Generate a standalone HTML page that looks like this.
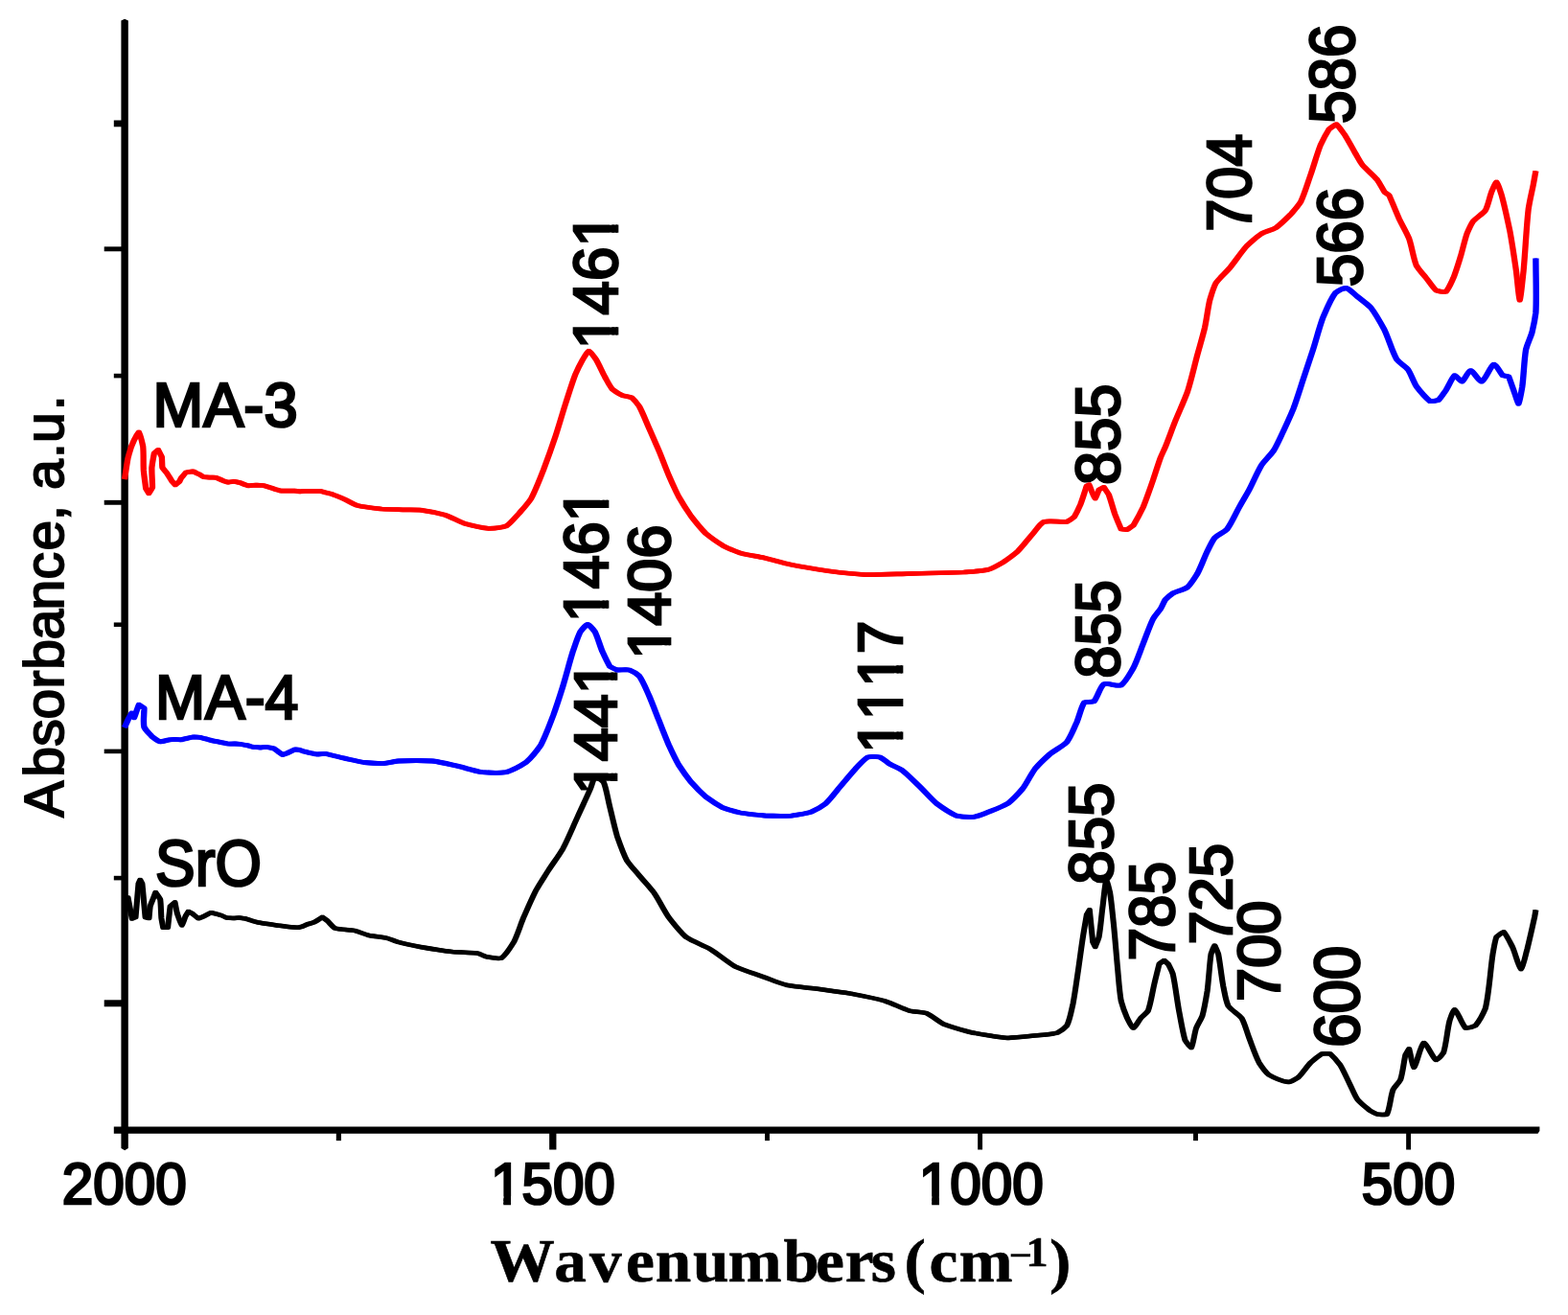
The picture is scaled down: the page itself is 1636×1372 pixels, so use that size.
<!DOCTYPE html>
<html><head><meta charset="utf-8"><title>FTIR spectra</title>
<style>
html,body{margin:0;padding:0;background:#fff;}
body{width:1636px;height:1372px;overflow:hidden;}
svg{display:block;}
text{font-kerning:none;font-variant-ligatures:none;}
.s{font-family:"Liberation Sans",sans-serif;fill:#000;stroke:#000;stroke-width:2.7px;stroke-linejoin:miter;}
.t{font-family:"Liberation Serif",serif;font-weight:bold;fill:#000;stroke:#000;stroke-width:0.6px;}
</style></head><body>
<svg width="1636" height="1372" viewBox="0 0 1636 1372">
<rect width="1636" height="1372" fill="#fff"/>

<defs><clipPath id="c1"><path clip-rule="evenodd" shape-rendering="crispEdges" d="M-50,-200H900V200H-50ZM0.77,-7.88H13.89V3.85H0.77ZM21.94,-7.88H34.59V3.85H21.94Z"/></clipPath><clipPath id="c2"><path clip-rule="evenodd" shape-rendering="crispEdges" d="M-50,-200H900V200H-50ZM0.77,-7.88H13.89V3.85H0.77ZM21.94,-7.88H34.59V3.85H21.94Z"/></clipPath><clipPath id="c3"><path clip-rule="evenodd" shape-rendering="crispEdges" d="M-50,-200H900V200H-50ZM1.10,-8.21H15.00V3.85H1.10ZM23.45,-8.21H36.84V3.85H23.45ZM109.60,-8.21H123.50V3.85H109.60ZM131.95,-8.21H145.34V3.85H131.95Z"/></clipPath><clipPath id="c4"><path clip-rule="evenodd" shape-rendering="crispEdges" d="M-50,-200H900V200H-50ZM1.05,-8.16H14.83V3.85H1.05ZM23.21,-8.16H36.48V3.85H23.21ZM108.37,-8.16H122.15V3.85H108.37ZM130.53,-8.16H143.81V3.85H130.53Z"/></clipPath><clipPath id="c5"><path clip-rule="evenodd" shape-rendering="crispEdges" d="M-50,-200H900V200H-50ZM0.97,-8.08H14.56V3.85H0.97ZM22.86,-8.08H35.96V3.85H22.86Z"/></clipPath><clipPath id="c6"><path clip-rule="evenodd" shape-rendering="crispEdges" d="M-50,-200H900V200H-50ZM0.97,-8.08H14.57V3.85H0.97ZM22.86,-8.08H35.96V3.85H22.86ZM106.58,-8.08H120.18V3.85H106.58ZM128.47,-8.08H141.57V3.85H128.47Z"/></clipPath><clipPath id="c7"><path clip-rule="evenodd" shape-rendering="crispEdges" d="M-50,-200H900V200H-50ZM1.13,-8.24H15.10V3.85H1.13ZM23.59,-8.24H37.04V3.85H23.59ZM37.52,-8.24H51.49V3.85H37.52ZM59.97,-8.24H73.43V3.85H59.97ZM73.91,-8.24H87.88V3.85H73.91ZM96.36,-8.24H109.82V3.85H96.36Z"/></clipPath></defs>
<g fill="#000">
<path d="M126.4,21.5 L130.1,19.8 L133.8,21.5 V1198 L130.1,1200.3 L126.4,1198 Z"/>
<path d="M118.8,1175.4 H1606.4 V1180 L1604.5,1182.8 H118.8 Z"/>
<rect x="118.8" y="125.50" width="11.2" height="6.8"/>
<rect x="108.7" y="257.35" width="21.3" height="4.9"/>
<rect x="118.8" y="389.80" width="11.2" height="4.6"/>
<rect x="108.7" y="521.85" width="21.3" height="4.9"/>
<rect x="118.8" y="649.45" width="11.2" height="4.5"/>
<rect x="108.7" y="781.60" width="21.3" height="4.6"/>
<rect x="118.8" y="913.80" width="11.2" height="4.6"/>
<rect x="108.7" y="1043.30" width="21.3" height="7"/>
<rect x="350.80" y="1179" width="5.2" height="11.10"/>
<rect x="573.15" y="1179" width="7.3" height="20.50"/>
<rect x="798.05" y="1179" width="4.9" height="11.10"/>
<rect x="1020.15" y="1179" width="4.9" height="20.50"/>
<rect x="1245.05" y="1179" width="4.9" height="11.10"/>
<rect x="1467.15" y="1179" width="4.9" height="20.50"/>
</g>
<text class="s" transform="translate(64.80,1256.00) scale(0.9642,1)" font-size="60.60">2000</text>
<text class="s" transform="translate(511.90,1256.00) scale(0.9642,1)" font-size="60.60" clip-path="url(#c1)">1500</text>
<text class="s" transform="translate(958.80,1256.00) scale(0.9642,1)" font-size="60.60" clip-path="url(#c2)">1000</text>
<text class="s" transform="translate(1420.80,1256.00) scale(0.9642,1)" font-size="60.60">500</text>
<text class="s" transform="translate(159.53,445.40) scale(0.9813,1)" font-size="64.43">MA-3</text>
<text class="s" transform="translate(161.90,749.83) scale(0.9526,1)" font-size="65.67">MA-4</text>
<text class="s" transform="translate(162.07,923.93) scale(0.9137,1)" font-size="68.23">SrO</text>
<text class="t" transform="translate(0,1337.4) scale(1.06,1)" font-size="63.5" x="482.45 545.47 580.19 615.94 645.09 681.98 716.42 771.32 802.83 831.79 857.36 877.36 890.19 914.72 943.77" y="0">Wavenumbers (cm<tspan font-size="36.3" x="995.57" y="-19.8">–</tspan><tspan font-size="43.4" x="1009.91" y="-16.8">1</tspan><tspan x="1033.11" y="0">)</tspan></text>
<text class="s" style="stroke-width:1.9px" transform="translate(66.0,853.0) rotate(-90)" font-size="57.0" x="0.3 42.2 74.2 102.6 134.6 154.3 185.5 216.4 248.5 278.5 310.1 326.0 341.9 375.0 391.1 424.7">Absorbance, a.u.</text>
<text class="s" transform="translate(644.33,364.23) rotate(-90) scale(0.9840,1)" font-size="65.03" clip-path="url(#c3)">1461</text>
<text class="s" transform="translate(634.37,649.20) rotate(-90) scale(0.9766,1)" font-size="64.32" clip-path="url(#c4)">1461</text>
<text class="s" transform="translate(698.87,687.67) rotate(-90) scale(0.9950,1)" font-size="63.29" clip-path="url(#c5)">1406</text>
<text class="s" transform="translate(642.73,829.37) rotate(-90) scale(0.9944,1)" font-size="63.30" clip-path="url(#c6)">1441</text>
<text class="s" transform="translate(941.33,785.77) rotate(-90) scale(0.9487,1)" font-size="65.43" clip-path="url(#c7)">1117</text>
<text class="s" transform="translate(1167.87,505.93) rotate(-90) scale(0.9873,1)" font-size="64.00">855</text>
<text class="s" transform="translate(1168.33,707.73) rotate(-90) scale(0.9358,1)" font-size="65.74">855</text>
<text class="s" transform="translate(1160.77,922.67) rotate(-90) scale(0.9669,1)" font-size="65.74">855</text>
<text class="s" transform="translate(1225.10,1002.60) rotate(-90) scale(0.9236,1)" font-size="67.19">785</text>
<text class="s" transform="translate(1285.27,985.60) rotate(-90) scale(1.0000,1)" font-size="63.29">725</text>
<text class="s" transform="translate(1335.40,1044.97) rotate(-90) scale(0.9993,1)" font-size="63.29">700</text>
<text class="s" transform="translate(1417.53,1092.83) rotate(-90) scale(0.9519,1)" font-size="66.77">600</text>
<text class="s" transform="translate(1305.40,241.57) rotate(-90) scale(0.9417,1)" font-size="64.70">704</text>
<text class="s" transform="translate(1412.53,129.10) rotate(-90) scale(0.9240,1)" font-size="67.15">586</text>
<text class="s" transform="translate(1420.53,299.17) rotate(-90) scale(0.9295,1)" font-size="66.77">566</text>
<g fill="none" stroke="#000000" stroke-width="4.5" stroke-linejoin="round" stroke-linecap="butt"><path transform="translate(-0.8,0)" d="M130.0,938.0L133.5,936.5L137.8,958.5L141.5,957.0L144.5,922.0L146.3,918.0L148.4,922.0L151.6,957.0L155.5,958.0C155.9,953.9 156.1,949.7 156.7,945.7C157.7,942.3 159.2,939.2 160.4,935.9L162.3,931.0C163.9,933.5 165.7,935.7 167.2,938.4C168.0,944.4 167.9,952.0 168.4,958.0C168.9,961.5 169.6,964.5 170.2,967.8L175.1,967.8C175.9,960.4 176.7,952.9 177.6,945.7C179.2,944.2 180.9,942.7 182.5,941.4C183.3,945.1 183.9,949.2 184.9,953.1C186.3,957.2 188.2,963.0 189.8,965.3C191.1,963.5 192.3,959.1 193.5,956.0L196.5,951.1L200.8,953.3C202.9,955.0 204.9,956.7 207.0,958.3C209.0,957.6 211.1,956.7 213.1,955.9C215.5,954.7 217.9,953.2 220.4,952.2C223.6,952.8 227.0,953.9 230.2,954.8C232.3,955.7 234.3,956.6 236.3,957.5C238.8,957.7 241.2,957.8 243.7,957.9C245.7,957.8 247.8,957.6 249.8,957.5C251.8,957.8 253.9,958.0 255.9,958.3C258.0,959.0 260.0,959.7 262.1,960.4C264.1,961.0 266.2,961.6 268.2,962.2C270.6,962.6 273.0,963.1 275.5,963.5C279.9,964.1 284.7,964.8 289.0,965.4C292.4,965.9 295.5,966.4 298.8,966.8C302.8,967.2 307.0,967.5 311.1,967.8L316.0,966.5L320.0,964.6C322.9,963.7 325.8,962.9 328.6,961.8C331.2,960.3 333.7,958.4 336.3,956.8C338.0,958.0 339.8,959.3 341.5,960.6C344.1,963.1 346.1,966.2 349.2,968.3C355.0,970.0 363.2,969.7 369.7,970.9C375.1,972.3 379.8,974.6 385.1,976.0C390.9,977.2 397.5,977.4 403.1,978.6C407.5,979.8 410.9,981.5 415.4,982.9C422.3,984.7 430.3,986.4 438.5,988.0C448.9,989.8 461.2,991.8 471.9,993.1C480.8,993.9 490.1,993.5 497.6,994.4C501.5,995.5 504.2,997.2 507.8,998.3C512.6,999.1 518.5,1000.7 523.2,999.6C528.1,996.2 532.2,989.0 536.1,982.9C540.0,975.1 542.7,965.9 546.3,957.2C550.4,947.9 554.7,937.8 559.2,929.0C563.3,921.7 567.6,915.4 572.0,908.4C576.9,900.8 582.5,893.6 587.4,885.3C592.8,875.0 597.8,862.7 602.8,851.9C607.2,842.2 612.1,831.9 615.7,823.7C617.7,818.9 618.6,813.5 620.8,810.8C623.5,811.3 627.1,813.6 629.8,816.0C632.7,822.8 634.0,832.8 636.2,841.6C638.7,851.6 641.0,862.5 643.9,872.4C647.0,881.3 650.2,890.4 654.2,898.1C658.1,903.9 662.6,908.2 667.0,913.5C672.0,919.4 677.4,925.0 682.4,931.5C687.8,939.4 692.3,949.1 697.8,957.2C703.5,964.5 709.0,971.7 715.8,977.7C723.6,982.9 733.1,985.8 741.5,990.6C750.2,996.1 758.2,1003.3 767.1,1008.5C776.2,1012.7 786.1,1015.5 795.4,1018.8C803.9,1021.8 811.8,1025.3 820.5,1027.7C830.3,1029.6 840.8,1030.1 851.3,1031.5C863.0,1033.1 875.3,1034.6 887.3,1036.6C899.3,1038.9 912.0,1041.3 923.2,1044.3C932.3,1047.4 940.8,1052.0 948.9,1054.6C955.2,1056.0 961.0,1055.5 966.9,1057.2C973.1,1060.1 978.4,1065.3 984.9,1068.7C992.8,1071.9 1002.2,1074.3 1010.5,1076.5C1017.6,1078.1 1024.2,1079.2 1031.1,1080.3C1037.9,1081.3 1044.3,1082.5 1051.6,1082.9C1061.2,1082.7 1072.8,1081.2 1082.4,1080.3C1089.7,1079.5 1097.1,1079.4 1103.0,1077.7C1107.0,1075.7 1110.3,1073.4 1113.2,1070.0C1116.3,1063.9 1117.7,1055.1 1119.6,1046.9C1121.6,1036.5 1123.1,1024.8 1124.8,1013.5C1126.5,1001.7 1128.2,988.7 1129.9,977.6C1131.2,969.3 1132.5,962.2 1133.8,954.5C1134.8,952.8 1135.8,951.0 1136.8,949.3C1137.9,960.4 1139.1,971.6 1140.2,982.7L1142.7,987.9C1144.0,984.5 1145.4,981.6 1146.6,977.6C1148.2,968.9 1149.1,956.9 1150.4,946.8C1151.7,937.2 1152.8,921.9 1154.3,918.5C1155.5,920.0 1156.9,926.4 1158.1,931.4C1159.7,940.8 1160.7,953.1 1162.0,964.7C1163.4,978.6 1164.6,994.3 1165.9,1008.4C1167.1,1020.8 1167.8,1033.7 1169.7,1044.3C1171.5,1051.0 1173.8,1056.9 1176.1,1062.3C1178.1,1066.1 1180.3,1071.3 1182.5,1072.6C1184.9,1071.5 1187.6,1065.6 1190.2,1062.3C1192.7,1059.6 1195.6,1057.8 1197.9,1054.6C1200.7,1046.9 1202.3,1035.3 1204.4,1026.4C1206.1,1019.2 1207.8,1012.6 1209.5,1005.8C1211.2,1004.5 1212.9,1003.3 1214.6,1002.0L1219.0,1006.0C1220.6,1009.4 1222.2,1012.1 1223.7,1016.1C1226.1,1026.6 1227.9,1042.2 1230.1,1054.6C1232.2,1065.3 1233.9,1076.7 1236.5,1085.4C1238.5,1088.5 1241.0,1091.8 1243.0,1093.1C1245.1,1089.0 1246.1,1078.8 1248.1,1072.6C1250.0,1067.9 1252.6,1064.6 1254.5,1059.8C1256.6,1052.3 1258.1,1043.3 1259.6,1034.1C1261.2,1022.1 1261.9,1006.6 1263.5,995.6C1264.7,992.1 1266.0,988.4 1267.3,986.6C1268.6,988.4 1270.0,992.2 1271.2,995.6C1273.1,1005.2 1274.4,1018.8 1276.3,1029.0C1277.9,1036.4 1278.7,1043.4 1281.5,1049.5C1285.2,1054.5 1291.6,1057.4 1295.6,1062.3C1299.0,1068.4 1300.6,1075.8 1303.3,1082.9C1306.5,1091.2 1309.8,1101.1 1313.6,1108.6C1316.8,1113.5 1319.6,1117.8 1323.8,1121.4C1329.6,1124.8 1338.3,1128.2 1344.4,1129.1C1348.2,1128.3 1351.2,1126.2 1354.6,1124.0C1359.0,1119.8 1363.1,1113.2 1367.5,1108.6C1371.3,1105.2 1375.2,1102.1 1379.0,1099.6C1382.0,1099.3 1385.1,1099.2 1388.0,1099.6C1391.5,1102.7 1395.0,1106.7 1398.3,1111.1C1402.0,1117.2 1405.3,1125.2 1408.6,1131.7C1411.3,1137.1 1413.2,1142.4 1416.3,1147.1C1420.0,1151.4 1424.9,1155.1 1429.1,1158.6C1431.7,1160.1 1434.2,1161.4 1436.8,1162.5C1440.1,1162.7 1444.0,1163.5 1447.1,1162.5C1450.2,1156.4 1450.8,1144.0 1453.5,1136.8C1455.8,1132.7 1459.0,1130.6 1461.2,1126.5C1463.6,1119.4 1464.5,1108.9 1466.3,1100.9C1467.6,1098.6 1468.9,1096.2 1470.2,1094.4C1471.9,1099.8 1473.2,1111.4 1475.3,1113.7C1478.2,1110.8 1481.7,1091.3 1485.6,1088.0C1489.5,1089.8 1494.3,1103.0 1498.4,1106.0C1501.1,1104.9 1503.8,1101.6 1506.1,1098.3C1509.0,1089.4 1510.1,1074.1 1512.5,1064.9C1514.1,1060.3 1515.6,1054.7 1517.7,1053.3C1521.0,1055.4 1525.0,1068.4 1529.2,1072.6C1532.5,1072.8 1536.3,1071.6 1539.5,1070.0C1543.3,1065.4 1546.8,1059.4 1549.8,1052.1C1553.6,1036.9 1555.1,1011.0 1557.5,995.6C1558.8,988.5 1559.5,982.9 1561.3,977.6C1563.6,975.5 1566.5,973.3 1569.0,972.4C1572.1,976.0 1575.1,982.3 1578.0,987.9C1581.2,995.0 1584.2,1008.4 1587.0,1011.0C1589.3,1008.5 1591.3,997.8 1593.4,990.4C1596.0,980.2 1598.8,967.4 1601.1,957.0C1601.6,954.3 1602.0,951.9 1602.4,949.3"/><path transform="translate(0.8,0)" d="M130.0,938.0L133.5,936.5L137.8,958.5L141.5,957.0L144.5,922.0L146.3,918.0L148.4,922.0L151.6,957.0L155.5,958.0C155.9,953.9 156.1,949.7 156.7,945.7C157.7,942.3 159.2,939.2 160.4,935.9L162.3,931.0C163.9,933.5 165.7,935.7 167.2,938.4C168.0,944.4 167.9,952.0 168.4,958.0C168.9,961.5 169.6,964.5 170.2,967.8L175.1,967.8C175.9,960.4 176.7,952.9 177.6,945.7C179.2,944.2 180.9,942.7 182.5,941.4C183.3,945.1 183.9,949.2 184.9,953.1C186.3,957.2 188.2,963.0 189.8,965.3C191.1,963.5 192.3,959.1 193.5,956.0L196.5,951.1L200.8,953.3C202.9,955.0 204.9,956.7 207.0,958.3C209.0,957.6 211.1,956.7 213.1,955.9C215.5,954.7 217.9,953.2 220.4,952.2C223.6,952.8 227.0,953.9 230.2,954.8C232.3,955.7 234.3,956.6 236.3,957.5C238.8,957.7 241.2,957.8 243.7,957.9C245.7,957.8 247.8,957.6 249.8,957.5C251.8,957.8 253.9,958.0 255.9,958.3C258.0,959.0 260.0,959.7 262.1,960.4C264.1,961.0 266.2,961.6 268.2,962.2C270.6,962.6 273.0,963.1 275.5,963.5C279.9,964.1 284.7,964.8 289.0,965.4C292.4,965.9 295.5,966.4 298.8,966.8C302.8,967.2 307.0,967.5 311.1,967.8L316.0,966.5L320.0,964.6C322.9,963.7 325.8,962.9 328.6,961.8C331.2,960.3 333.7,958.4 336.3,956.8C338.0,958.0 339.8,959.3 341.5,960.6C344.1,963.1 346.1,966.2 349.2,968.3C355.0,970.0 363.2,969.7 369.7,970.9C375.1,972.3 379.8,974.6 385.1,976.0C390.9,977.2 397.5,977.4 403.1,978.6C407.5,979.8 410.9,981.5 415.4,982.9C422.3,984.7 430.3,986.4 438.5,988.0C448.9,989.8 461.2,991.8 471.9,993.1C480.8,993.9 490.1,993.5 497.6,994.4C501.5,995.5 504.2,997.2 507.8,998.3C512.6,999.1 518.5,1000.7 523.2,999.6C528.1,996.2 532.2,989.0 536.1,982.9C540.0,975.1 542.7,965.9 546.3,957.2C550.4,947.9 554.7,937.8 559.2,929.0C563.3,921.7 567.6,915.4 572.0,908.4C576.9,900.8 582.5,893.6 587.4,885.3C592.8,875.0 597.8,862.7 602.8,851.9C607.2,842.2 612.1,831.9 615.7,823.7C617.7,818.9 618.6,813.5 620.8,810.8C623.5,811.3 627.1,813.6 629.8,816.0C632.7,822.8 634.0,832.8 636.2,841.6C638.7,851.6 641.0,862.5 643.9,872.4C647.0,881.3 650.2,890.4 654.2,898.1C658.1,903.9 662.6,908.2 667.0,913.5C672.0,919.4 677.4,925.0 682.4,931.5C687.8,939.4 692.3,949.1 697.8,957.2C703.5,964.5 709.0,971.7 715.8,977.7C723.6,982.9 733.1,985.8 741.5,990.6C750.2,996.1 758.2,1003.3 767.1,1008.5C776.2,1012.7 786.1,1015.5 795.4,1018.8C803.9,1021.8 811.8,1025.3 820.5,1027.7C830.3,1029.6 840.8,1030.1 851.3,1031.5C863.0,1033.1 875.3,1034.6 887.3,1036.6C899.3,1038.9 912.0,1041.3 923.2,1044.3C932.3,1047.4 940.8,1052.0 948.9,1054.6C955.2,1056.0 961.0,1055.5 966.9,1057.2C973.1,1060.1 978.4,1065.3 984.9,1068.7C992.8,1071.9 1002.2,1074.3 1010.5,1076.5C1017.6,1078.1 1024.2,1079.2 1031.1,1080.3C1037.9,1081.3 1044.3,1082.5 1051.6,1082.9C1061.2,1082.7 1072.8,1081.2 1082.4,1080.3C1089.7,1079.5 1097.1,1079.4 1103.0,1077.7C1107.0,1075.7 1110.3,1073.4 1113.2,1070.0C1116.3,1063.9 1117.7,1055.1 1119.6,1046.9C1121.6,1036.5 1123.1,1024.8 1124.8,1013.5C1126.5,1001.7 1128.2,988.7 1129.9,977.6C1131.2,969.3 1132.5,962.2 1133.8,954.5C1134.8,952.8 1135.8,951.0 1136.8,949.3C1137.9,960.4 1139.1,971.6 1140.2,982.7L1142.7,987.9C1144.0,984.5 1145.4,981.6 1146.6,977.6C1148.2,968.9 1149.1,956.9 1150.4,946.8C1151.7,937.2 1152.8,921.9 1154.3,918.5C1155.5,920.0 1156.9,926.4 1158.1,931.4C1159.7,940.8 1160.7,953.1 1162.0,964.7C1163.4,978.6 1164.6,994.3 1165.9,1008.4C1167.1,1020.8 1167.8,1033.7 1169.7,1044.3C1171.5,1051.0 1173.8,1056.9 1176.1,1062.3C1178.1,1066.1 1180.3,1071.3 1182.5,1072.6C1184.9,1071.5 1187.6,1065.6 1190.2,1062.3C1192.7,1059.6 1195.6,1057.8 1197.9,1054.6C1200.7,1046.9 1202.3,1035.3 1204.4,1026.4C1206.1,1019.2 1207.8,1012.6 1209.5,1005.8C1211.2,1004.5 1212.9,1003.3 1214.6,1002.0L1219.0,1006.0C1220.6,1009.4 1222.2,1012.1 1223.7,1016.1C1226.1,1026.6 1227.9,1042.2 1230.1,1054.6C1232.2,1065.3 1233.9,1076.7 1236.5,1085.4C1238.5,1088.5 1241.0,1091.8 1243.0,1093.1C1245.1,1089.0 1246.1,1078.8 1248.1,1072.6C1250.0,1067.9 1252.6,1064.6 1254.5,1059.8C1256.6,1052.3 1258.1,1043.3 1259.6,1034.1C1261.2,1022.1 1261.9,1006.6 1263.5,995.6C1264.7,992.1 1266.0,988.4 1267.3,986.6C1268.6,988.4 1270.0,992.2 1271.2,995.6C1273.1,1005.2 1274.4,1018.8 1276.3,1029.0C1277.9,1036.4 1278.7,1043.4 1281.5,1049.5C1285.2,1054.5 1291.6,1057.4 1295.6,1062.3C1299.0,1068.4 1300.6,1075.8 1303.3,1082.9C1306.5,1091.2 1309.8,1101.1 1313.6,1108.6C1316.8,1113.5 1319.6,1117.8 1323.8,1121.4C1329.6,1124.8 1338.3,1128.2 1344.4,1129.1C1348.2,1128.3 1351.2,1126.2 1354.6,1124.0C1359.0,1119.8 1363.1,1113.2 1367.5,1108.6C1371.3,1105.2 1375.2,1102.1 1379.0,1099.6C1382.0,1099.3 1385.1,1099.2 1388.0,1099.6C1391.5,1102.7 1395.0,1106.7 1398.3,1111.1C1402.0,1117.2 1405.3,1125.2 1408.6,1131.7C1411.3,1137.1 1413.2,1142.4 1416.3,1147.1C1420.0,1151.4 1424.9,1155.1 1429.1,1158.6C1431.7,1160.1 1434.2,1161.4 1436.8,1162.5C1440.1,1162.7 1444.0,1163.5 1447.1,1162.5C1450.2,1156.4 1450.8,1144.0 1453.5,1136.8C1455.8,1132.7 1459.0,1130.6 1461.2,1126.5C1463.6,1119.4 1464.5,1108.9 1466.3,1100.9C1467.6,1098.6 1468.9,1096.2 1470.2,1094.4C1471.9,1099.8 1473.2,1111.4 1475.3,1113.7C1478.2,1110.8 1481.7,1091.3 1485.6,1088.0C1489.5,1089.8 1494.3,1103.0 1498.4,1106.0C1501.1,1104.9 1503.8,1101.6 1506.1,1098.3C1509.0,1089.4 1510.1,1074.1 1512.5,1064.9C1514.1,1060.3 1515.6,1054.7 1517.7,1053.3C1521.0,1055.4 1525.0,1068.4 1529.2,1072.6C1532.5,1072.8 1536.3,1071.6 1539.5,1070.0C1543.3,1065.4 1546.8,1059.4 1549.8,1052.1C1553.6,1036.9 1555.1,1011.0 1557.5,995.6C1558.8,988.5 1559.5,982.9 1561.3,977.6C1563.6,975.5 1566.5,973.3 1569.0,972.4C1572.1,976.0 1575.1,982.3 1578.0,987.9C1581.2,995.0 1584.2,1008.4 1587.0,1011.0C1589.3,1008.5 1591.3,997.8 1593.4,990.4C1596.0,980.2 1598.8,967.4 1601.1,957.0C1601.6,954.3 1602.0,951.9 1602.4,949.3"/></g>
<g fill="none" stroke="#0000ff" stroke-width="4.8" stroke-linejoin="round" stroke-linecap="butt"><path transform="translate(-0.8,0)" d="M130.0,759.0C131.3,756.0 132.7,753.0 134.0,750.0C135.2,748.0 136.3,746.0 137.5,744.0L140.0,748.8C141.6,744.3 143.2,739.5 144.9,735.3C146.7,736.4 148.6,737.7 150.4,739.0C150.5,745.3 149.2,753.0 150.4,758.6C152.3,762.4 155.6,765.3 158.4,768.3C161.1,770.4 164.0,772.6 166.9,773.9C170.1,773.8 173.4,772.5 176.7,771.8L182.3,771.3C184.5,771.5 186.7,771.7 189.0,771.9C193.0,771.0 197.2,769.9 201.2,769.0C203.7,769.0 206.1,769.2 208.6,769.3L213.5,770.7C215.9,771.3 218.3,772.0 220.8,772.6C224.0,773.3 227.3,773.9 230.6,774.6C232.7,775.0 234.7,775.4 236.8,775.8L240.4,776.2L245.3,776.0L250.2,776.4C252.7,776.8 255.1,777.2 257.6,777.6C259.6,778.2 261.7,778.7 263.7,779.3C266.6,779.5 269.4,779.8 272.3,780.0L274.7,779.6L278.4,779.5C280.8,779.9 283.3,780.4 285.7,780.8C287.3,782.1 289.0,783.3 290.6,784.6L294.9,787.5L299.2,786.0L307.8,781.8L312.7,782.5L317.6,784.2C319.6,784.7 321.7,785.1 323.7,785.6C326.2,786.1 328.6,786.5 331.1,787.0L336.0,786.7L340.0,786.5C346.5,788.1 352.9,789.7 359.4,791.2C366.2,792.7 373.1,794.4 380.0,795.5C386.7,796.2 393.6,796.7 400.0,796.6C405.4,796.1 409.6,794.6 415.4,794.0C425.7,793.5 440.0,793.3 451.3,794.0C460.4,795.2 468.4,797.3 477.0,799.2C485.6,801.2 494.1,804.2 502.7,805.6C511.2,806.3 520.3,806.8 528.4,805.6C535.7,803.3 542.7,799.5 549.0,795.3C554.7,790.1 559.6,784.1 564.3,777.3C569.2,768.1 573.2,756.8 577.2,746.5C580.9,736.3 584.1,726.2 587.4,715.7C590.9,704.1 594.3,690.7 597.7,679.8C600.3,672.3 602.5,665.1 605.4,659.2C607.8,656.1 610.5,652.7 613.1,651.5C615.7,652.7 618.4,656.1 620.8,659.2C623.7,665.1 625.8,673.3 628.5,679.8C631.0,685.2 633.5,690.6 636.2,695.2C638.7,696.7 641.2,697.9 643.9,699.0C648.0,699.2 652.7,698.3 656.7,699.0C660.4,700.4 663.8,702.5 667.0,705.4C670.9,710.8 674.0,718.8 677.3,726.0C680.8,734.2 684.1,743.1 687.5,751.7C690.9,760.2 694.3,769.1 697.8,777.3C701.1,784.5 704.3,791.3 708.0,797.9C712.0,804.1 716.4,810.2 721.0,815.9C725.8,821.3 730.9,826.6 736.3,831.3C742.0,835.5 748.2,839.6 754.3,842.8C760.2,845.1 765.9,846.5 772.3,848.0C780.3,849.4 789.3,850.3 798.0,851.0C807.1,851.4 816.9,851.6 825.7,851.1C832.9,850.2 839.8,849.2 846.2,847.3C851.7,844.9 856.7,842.0 861.6,838.3C867.0,833.2 871.9,826.3 877.0,820.3C882.1,814.3 887.3,807.9 892.4,802.3C896.7,797.9 900.7,792.7 905.3,790.0C909.4,789.0 914.1,789.2 918.1,790.0C921.8,791.6 924.8,794.9 928.4,797.2C932.5,799.5 936.8,800.9 941.2,803.6C947.0,808.1 953.2,814.6 959.2,820.3C965.2,826.2 970.8,832.8 977.1,838.3C983.6,843.1 990.8,848.1 997.7,851.1C1003.7,852.5 1009.9,852.7 1015.7,852.4C1021.0,851.4 1025.8,849.3 1031.1,847.3C1037.7,844.7 1045.3,842.0 1051.6,838.3C1057.3,833.9 1062.2,828.5 1067.0,822.9C1071.7,816.5 1075.1,808.7 1079.8,802.3C1084.6,796.7 1089.9,791.7 1095.3,786.9C1101.0,782.3 1108.1,779.2 1113.2,774.1C1117.5,768.1 1120.3,760.4 1123.5,753.5C1126.3,746.7 1128.0,738.1 1131.2,733.0C1134.3,731.7 1138.3,732.9 1141.5,731.7C1145.3,727.2 1147.3,717.5 1151.7,713.7C1156.8,712.2 1164.4,716.4 1169.7,715.0C1174.8,711.2 1178.6,703.5 1182.5,697.0C1186.4,689.1 1189.4,679.9 1192.8,671.4C1196.2,662.8 1199.5,652.9 1203.1,645.7C1205.6,641.6 1208.4,638.9 1210.8,635.4C1212.7,632.1 1214.0,628.5 1216.0,625.4C1218.4,623.1 1220.9,621.0 1223.7,619.0C1228.4,616.7 1234.5,615.5 1239.1,612.6C1243.1,608.7 1246.1,603.6 1249.4,598.4C1253.1,591.4 1256.3,582.3 1259.6,575.3C1262.2,570.2 1264.2,565.4 1267.3,561.2C1271.0,557.7 1276.2,556.0 1280.2,552.2C1284.9,545.9 1288.9,536.5 1293.0,529.1C1296.5,522.8 1299.8,517.5 1303.3,511.1C1307.5,503.1 1311.5,493.1 1316.1,485.4C1320.2,479.7 1325.1,475.5 1329.0,470.0C1332.8,463.6 1335.8,456.5 1339.2,449.5C1342.7,442.0 1346.2,434.5 1349.5,426.4C1353.1,416.7 1356.4,405.9 1359.8,395.6C1363.2,385.3 1366.6,375.1 1370.0,364.7C1373.5,353.7 1376.4,341.9 1380.3,331.4C1384.2,322.4 1388.3,311.9 1393.2,305.7C1396.8,302.9 1400.9,300.8 1404.7,300.5C1408.7,301.9 1412.3,306.4 1416.3,309.5C1420.9,313.2 1425.9,316.5 1430.4,321.1C1435.5,327.7 1440.1,336.0 1444.5,344.2C1449.1,353.9 1452.5,366.8 1457.3,375.0C1460.9,379.4 1465.4,381.3 1468.9,385.3C1472.4,390.6 1474.4,397.6 1477.9,403.3C1482.1,408.8 1487.3,414.7 1492.0,418.7C1495.0,418.8 1498.1,418.2 1501.0,417.4C1503.7,414.5 1506.1,410.8 1508.7,407.1C1511.7,402.3 1514.6,394.9 1517.7,391.7C1520.2,392.7 1522.8,397.0 1525.4,398.1C1528.4,395.8 1531.2,388.1 1534.4,386.6C1538.0,387.8 1542.1,397.0 1545.9,398.1C1550.3,395.8 1554.7,382.2 1558.8,380.1C1561.9,381.4 1564.8,387.9 1567.8,391.7C1569.9,392.2 1572.1,392.5 1574.2,393.0C1576.4,398.8 1578.6,405.5 1580.6,411.0C1581.9,414.7 1583.2,419.6 1584.4,421.2C1585.8,418.3 1587.1,410.0 1588.3,403.3C1589.8,392.0 1590.2,375.9 1592.1,364.7C1593.9,357.9 1596.7,352.9 1598.5,346.8C1600.1,340.1 1601.4,334.2 1602.4,326.2C1603.3,310.4 1602.4,288.5 1602.4,269.6"/><path transform="translate(0.8,0)" d="M130.0,759.0C131.3,756.0 132.7,753.0 134.0,750.0C135.2,748.0 136.3,746.0 137.5,744.0L140.0,748.8C141.6,744.3 143.2,739.5 144.9,735.3C146.7,736.4 148.6,737.7 150.4,739.0C150.5,745.3 149.2,753.0 150.4,758.6C152.3,762.4 155.6,765.3 158.4,768.3C161.1,770.4 164.0,772.6 166.9,773.9C170.1,773.8 173.4,772.5 176.7,771.8L182.3,771.3C184.5,771.5 186.7,771.7 189.0,771.9C193.0,771.0 197.2,769.9 201.2,769.0C203.7,769.0 206.1,769.2 208.6,769.3L213.5,770.7C215.9,771.3 218.3,772.0 220.8,772.6C224.0,773.3 227.3,773.9 230.6,774.6C232.7,775.0 234.7,775.4 236.8,775.8L240.4,776.2L245.3,776.0L250.2,776.4C252.7,776.8 255.1,777.2 257.6,777.6C259.6,778.2 261.7,778.7 263.7,779.3C266.6,779.5 269.4,779.8 272.3,780.0L274.7,779.6L278.4,779.5C280.8,779.9 283.3,780.4 285.7,780.8C287.3,782.1 289.0,783.3 290.6,784.6L294.9,787.5L299.2,786.0L307.8,781.8L312.7,782.5L317.6,784.2C319.6,784.7 321.7,785.1 323.7,785.6C326.2,786.1 328.6,786.5 331.1,787.0L336.0,786.7L340.0,786.5C346.5,788.1 352.9,789.7 359.4,791.2C366.2,792.7 373.1,794.4 380.0,795.5C386.7,796.2 393.6,796.7 400.0,796.6C405.4,796.1 409.6,794.6 415.4,794.0C425.7,793.5 440.0,793.3 451.3,794.0C460.4,795.2 468.4,797.3 477.0,799.2C485.6,801.2 494.1,804.2 502.7,805.6C511.2,806.3 520.3,806.8 528.4,805.6C535.7,803.3 542.7,799.5 549.0,795.3C554.7,790.1 559.6,784.1 564.3,777.3C569.2,768.1 573.2,756.8 577.2,746.5C580.9,736.3 584.1,726.2 587.4,715.7C590.9,704.1 594.3,690.7 597.7,679.8C600.3,672.3 602.5,665.1 605.4,659.2C607.8,656.1 610.5,652.7 613.1,651.5C615.7,652.7 618.4,656.1 620.8,659.2C623.7,665.1 625.8,673.3 628.5,679.8C631.0,685.2 633.5,690.6 636.2,695.2C638.7,696.7 641.2,697.9 643.9,699.0C648.0,699.2 652.7,698.3 656.7,699.0C660.4,700.4 663.8,702.5 667.0,705.4C670.9,710.8 674.0,718.8 677.3,726.0C680.8,734.2 684.1,743.1 687.5,751.7C690.9,760.2 694.3,769.1 697.8,777.3C701.1,784.5 704.3,791.3 708.0,797.9C712.0,804.1 716.4,810.2 721.0,815.9C725.8,821.3 730.9,826.6 736.3,831.3C742.0,835.5 748.2,839.6 754.3,842.8C760.2,845.1 765.9,846.5 772.3,848.0C780.3,849.4 789.3,850.3 798.0,851.0C807.1,851.4 816.9,851.6 825.7,851.1C832.9,850.2 839.8,849.2 846.2,847.3C851.7,844.9 856.7,842.0 861.6,838.3C867.0,833.2 871.9,826.3 877.0,820.3C882.1,814.3 887.3,807.9 892.4,802.3C896.7,797.9 900.7,792.7 905.3,790.0C909.4,789.0 914.1,789.2 918.1,790.0C921.8,791.6 924.8,794.9 928.4,797.2C932.5,799.5 936.8,800.9 941.2,803.6C947.0,808.1 953.2,814.6 959.2,820.3C965.2,826.2 970.8,832.8 977.1,838.3C983.6,843.1 990.8,848.1 997.7,851.1C1003.7,852.5 1009.9,852.7 1015.7,852.4C1021.0,851.4 1025.8,849.3 1031.1,847.3C1037.7,844.7 1045.3,842.0 1051.6,838.3C1057.3,833.9 1062.2,828.5 1067.0,822.9C1071.7,816.5 1075.1,808.7 1079.8,802.3C1084.6,796.7 1089.9,791.7 1095.3,786.9C1101.0,782.3 1108.1,779.2 1113.2,774.1C1117.5,768.1 1120.3,760.4 1123.5,753.5C1126.3,746.7 1128.0,738.1 1131.2,733.0C1134.3,731.7 1138.3,732.9 1141.5,731.7C1145.3,727.2 1147.3,717.5 1151.7,713.7C1156.8,712.2 1164.4,716.4 1169.7,715.0C1174.8,711.2 1178.6,703.5 1182.5,697.0C1186.4,689.1 1189.4,679.9 1192.8,671.4C1196.2,662.8 1199.5,652.9 1203.1,645.7C1205.6,641.6 1208.4,638.9 1210.8,635.4C1212.7,632.1 1214.0,628.5 1216.0,625.4C1218.4,623.1 1220.9,621.0 1223.7,619.0C1228.4,616.7 1234.5,615.5 1239.1,612.6C1243.1,608.7 1246.1,603.6 1249.4,598.4C1253.1,591.4 1256.3,582.3 1259.6,575.3C1262.2,570.2 1264.2,565.4 1267.3,561.2C1271.0,557.7 1276.2,556.0 1280.2,552.2C1284.9,545.9 1288.9,536.5 1293.0,529.1C1296.5,522.8 1299.8,517.5 1303.3,511.1C1307.5,503.1 1311.5,493.1 1316.1,485.4C1320.2,479.7 1325.1,475.5 1329.0,470.0C1332.8,463.6 1335.8,456.5 1339.2,449.5C1342.7,442.0 1346.2,434.5 1349.5,426.4C1353.1,416.7 1356.4,405.9 1359.8,395.6C1363.2,385.3 1366.6,375.1 1370.0,364.7C1373.5,353.7 1376.4,341.9 1380.3,331.4C1384.2,322.4 1388.3,311.9 1393.2,305.7C1396.8,302.9 1400.9,300.8 1404.7,300.5C1408.7,301.9 1412.3,306.4 1416.3,309.5C1420.9,313.2 1425.9,316.5 1430.4,321.1C1435.5,327.7 1440.1,336.0 1444.5,344.2C1449.1,353.9 1452.5,366.8 1457.3,375.0C1460.9,379.4 1465.4,381.3 1468.9,385.3C1472.4,390.6 1474.4,397.6 1477.9,403.3C1482.1,408.8 1487.3,414.7 1492.0,418.7C1495.0,418.8 1498.1,418.2 1501.0,417.4C1503.7,414.5 1506.1,410.8 1508.7,407.1C1511.7,402.3 1514.6,394.9 1517.7,391.7C1520.2,392.7 1522.8,397.0 1525.4,398.1C1528.4,395.8 1531.2,388.1 1534.4,386.6C1538.0,387.8 1542.1,397.0 1545.9,398.1C1550.3,395.8 1554.7,382.2 1558.8,380.1C1561.9,381.4 1564.8,387.9 1567.8,391.7C1569.9,392.2 1572.1,392.5 1574.2,393.0C1576.4,398.8 1578.6,405.5 1580.6,411.0C1581.9,414.7 1583.2,419.6 1584.4,421.2C1585.8,418.3 1587.1,410.0 1588.3,403.3C1589.8,392.0 1590.2,375.9 1592.1,364.7C1593.9,357.9 1596.7,352.9 1598.5,346.8C1600.1,340.1 1601.4,334.2 1602.4,326.2C1603.3,310.4 1602.4,288.5 1602.4,269.6"/></g>
<g fill="none" stroke="#ff0000" stroke-width="4.7" stroke-linejoin="round" stroke-linecap="butt"><path transform="translate(-0.8,0)" d="M130.0,500.0C131.2,492.7 132.2,484.6 133.5,478.0C134.6,473.6 135.8,469.9 137.0,466.0C138.0,463.6 139.0,461.3 140.0,459.0C141.6,456.3 143.3,452.6 144.9,451.0C146.5,454.2 148.1,460.4 149.2,465.7C150.0,473.2 149.4,482.3 149.8,490.2C150.4,497.0 151.4,503.3 152.2,509.8L155.3,514.7C156.5,512.7 157.8,510.7 159.0,508.6C159.0,501.9 158.2,494.3 158.4,487.8C158.9,482.6 160.0,478.0 160.8,473.1L165.1,469.4C166.3,471.9 167.7,474.3 168.8,476.8C169.2,480.4 169.0,484.3 169.4,487.8C170.9,489.9 172.7,491.8 174.3,493.9C175.9,496.5 177.6,499.2 179.2,501.8L182.9,505.8L187.2,502.4L189.0,498.8C190.6,496.9 192.2,494.8 193.9,493.0C196.3,492.5 198.8,492.1 201.2,491.8C203.7,492.8 206.1,494.1 208.6,495.2L212.3,497.6C214.7,497.8 217.2,497.9 219.6,498.1C221.6,498.2 223.7,498.2 225.7,498.3C228.2,499.4 230.6,500.6 233.1,501.7L238.0,503.3C240.0,502.9 242.1,502.6 244.1,502.2C246.1,502.6 248.2,503.1 250.2,503.5C253.1,504.6 255.9,505.9 258.8,506.8C261.7,506.7 264.5,506.3 267.4,506.1C269.8,506.2 272.2,506.3 274.7,506.5C278.7,507.7 282.9,509.1 287.0,510.4C289.0,511.0 291.1,511.6 293.1,512.2C295.1,512.2 297.2,512.1 299.2,512.1C302.1,512.1 304.9,512.2 307.8,512.2L312.7,512.9L317.6,512.4L334.7,512.4L340.0,513.9C342.2,514.5 344.4,515.0 346.6,515.6C350.8,517.3 355.2,519.0 359.4,520.8C363.7,522.8 367.4,525.4 372.3,527.2C379.8,529.1 389.6,530.1 397.9,531.0C405.4,531.5 412.8,531.6 420.0,531.8C426.3,531.9 432.0,531.6 438.5,532.1C446.6,533.2 456.0,535.0 464.2,537.2C471.4,539.8 477.5,543.6 484.7,546.2C492.9,548.4 502.3,550.7 510.4,551.4C516.7,551.2 523.0,550.8 528.4,548.8C533.2,545.6 537.0,540.5 541.2,536.0C545.5,531.1 550.0,526.4 554.0,520.5C558.7,511.8 562.7,501.0 566.9,490.7C571.3,479.1 575.7,466.7 579.7,454.8C583.3,443.6 586.5,432.4 590.0,421.4C593.4,411.0 596.8,399.7 600.3,390.6C602.8,384.8 605.4,379.9 608.0,375.2C610.1,371.9 612.2,367.6 614.4,366.2C616.8,367.5 619.5,371.8 622.0,375.2C625.1,380.4 628.0,387.4 631.0,393.0C633.6,397.6 635.8,402.3 638.8,406.0C641.9,408.7 645.5,410.6 649.0,412.4C652.4,413.5 656.1,413.7 659.3,415.0C662.1,417.5 664.5,420.4 667.0,424.0C670.5,430.4 673.9,439.3 677.3,447.0C680.7,454.7 684.1,462.3 687.5,470.2C691.0,478.6 694.3,487.7 697.8,496.0C701.1,503.6 704.3,510.8 708.0,518.0C712.0,525.0 716.4,531.9 721.0,538.5C725.8,544.7 730.8,551.0 736.3,556.5C742.0,561.3 748.2,565.5 754.3,569.3C760.2,572.3 765.9,574.8 772.3,577.0C780.3,579.2 789.3,580.3 798.0,582.2C807.1,584.4 815.9,587.1 825.7,589.3C837.8,591.7 851.3,593.8 864.2,595.7C877.0,597.3 889.3,598.8 902.7,599.6C919.0,599.8 936.9,598.7 954.0,598.3C971.1,597.9 990.2,597.7 1005.4,597.0C1014.9,596.3 1023.3,596.1 1031.0,594.4C1036.7,592.4 1041.4,589.6 1046.5,586.7C1051.7,583.2 1056.9,579.5 1061.9,575.2C1067.2,569.8 1072.4,562.9 1077.3,557.2C1081.3,552.7 1084.1,547.4 1088.8,544.4C1095.7,542.6 1105.9,545.0 1113.2,544.4C1116.1,542.9 1118.5,541.2 1120.9,539.2C1123.2,535.4 1125.3,531.0 1127.3,526.4C1129.6,520.4 1131.6,513.5 1133.8,507.1L1136.3,505.8C1138.4,510.5 1140.7,517.2 1142.7,520.0C1144.1,518.2 1145.3,514.0 1146.6,511.0L1151.7,508.4C1153.4,511.0 1155.2,513.3 1156.9,516.1C1159.1,522.3 1161.1,530.1 1163.3,536.6C1165.4,542.0 1167.5,547.0 1169.7,552.0C1171.8,552.3 1174.0,552.4 1176.1,552.6C1178.2,551.2 1180.4,549.8 1182.5,548.2C1186.0,542.3 1189.5,535.9 1192.8,529.0C1196.4,520.2 1199.9,509.8 1203.1,500.7C1205.8,492.8 1208.3,484.4 1210.8,477.6C1212.6,473.3 1214.1,470.4 1216.0,466.0C1219.1,458.3 1222.7,448.3 1226.3,439.2C1230.4,429.1 1235.2,419.1 1239.1,408.4C1243.0,396.1 1246.1,382.1 1249.4,369.9C1252.1,360.0 1254.8,351.1 1257.1,341.6C1259.1,332.2 1260.2,322.0 1262.2,313.3C1264.1,306.8 1265.7,301.0 1268.6,295.3C1272.5,289.8 1278.0,285.4 1282.8,279.9C1288.6,272.8 1294.7,263.6 1300.7,256.8C1305.8,251.9 1310.8,247.5 1316.1,243.9C1321.1,241.2 1326.5,240.3 1331.5,237.5C1336.8,233.6 1342.2,228.1 1346.9,223.4C1350.7,219.1 1354.0,215.5 1357.2,210.5C1361.1,202.4 1364.1,191.9 1367.5,182.3C1371.0,172.2 1374.1,160.7 1377.7,151.5C1380.6,145.3 1383.6,139.7 1386.7,134.8C1389.2,132.8 1391.9,130.7 1394.4,129.7C1397.4,132.4 1400.4,137.0 1403.4,141.2C1406.9,146.7 1410.4,153.5 1413.7,159.2C1416.4,163.7 1418.3,167.7 1421.4,172.0C1425.8,177.1 1432.4,182.3 1436.8,187.4C1439.9,191.7 1441.9,196.1 1444.5,200.3C1446.2,201.6 1447.9,202.8 1449.6,204.1C1453.0,212.1 1456.4,220.6 1459.9,228.5C1463.3,235.6 1467.1,241.7 1470.2,249.0C1473.2,257.8 1474.6,269.3 1477.9,277.3C1480.9,282.3 1484.7,285.8 1488.1,290.1C1491.5,294.4 1494.7,299.7 1498.4,303.0C1501.7,304.1 1505.6,304.8 1508.7,304.3C1511.7,301.0 1514.0,295.3 1516.4,290.1C1519.2,283.1 1521.7,274.7 1524.1,267.0C1526.4,259.3 1528.1,250.8 1530.5,243.9C1532.5,239.1 1534.2,235.1 1536.9,231.0C1540.5,226.9 1546.2,224.0 1549.8,219.5C1552.8,213.9 1554.0,206.1 1556.2,200.3C1557.9,196.5 1559.6,191.4 1561.3,190.0C1563.1,191.8 1564.8,197.7 1566.5,202.8C1569.5,213.3 1572.7,228.3 1575.4,241.3C1577.9,254.8 1580.0,269.3 1581.9,282.4C1583.3,293.1 1584.4,309.6 1585.7,313.2C1587.0,309.6 1588.3,293.9 1589.6,282.4C1591.4,263.5 1592.6,236.4 1594.7,218.2C1596.2,208.4 1598.3,200.3 1599.8,192.6C1600.8,187.4 1601.5,183.1 1602.4,178.4"/><path transform="translate(0.8,0)" d="M130.0,500.0C131.2,492.7 132.2,484.6 133.5,478.0C134.6,473.6 135.8,469.9 137.0,466.0C138.0,463.6 139.0,461.3 140.0,459.0C141.6,456.3 143.3,452.6 144.9,451.0C146.5,454.2 148.1,460.4 149.2,465.7C150.0,473.2 149.4,482.3 149.8,490.2C150.4,497.0 151.4,503.3 152.2,509.8L155.3,514.7C156.5,512.7 157.8,510.7 159.0,508.6C159.0,501.9 158.2,494.3 158.4,487.8C158.9,482.6 160.0,478.0 160.8,473.1L165.1,469.4C166.3,471.9 167.7,474.3 168.8,476.8C169.2,480.4 169.0,484.3 169.4,487.8C170.9,489.9 172.7,491.8 174.3,493.9C175.9,496.5 177.6,499.2 179.2,501.8L182.9,505.8L187.2,502.4L189.0,498.8C190.6,496.9 192.2,494.8 193.9,493.0C196.3,492.5 198.8,492.1 201.2,491.8C203.7,492.8 206.1,494.1 208.6,495.2L212.3,497.6C214.7,497.8 217.2,497.9 219.6,498.1C221.6,498.2 223.7,498.2 225.7,498.3C228.2,499.4 230.6,500.6 233.1,501.7L238.0,503.3C240.0,502.9 242.1,502.6 244.1,502.2C246.1,502.6 248.2,503.1 250.2,503.5C253.1,504.6 255.9,505.9 258.8,506.8C261.7,506.7 264.5,506.3 267.4,506.1C269.8,506.2 272.2,506.3 274.7,506.5C278.7,507.7 282.9,509.1 287.0,510.4C289.0,511.0 291.1,511.6 293.1,512.2C295.1,512.2 297.2,512.1 299.2,512.1C302.1,512.1 304.9,512.2 307.8,512.2L312.7,512.9L317.6,512.4L334.7,512.4L340.0,513.9C342.2,514.5 344.4,515.0 346.6,515.6C350.8,517.3 355.2,519.0 359.4,520.8C363.7,522.8 367.4,525.4 372.3,527.2C379.8,529.1 389.6,530.1 397.9,531.0C405.4,531.5 412.8,531.6 420.0,531.8C426.3,531.9 432.0,531.6 438.5,532.1C446.6,533.2 456.0,535.0 464.2,537.2C471.4,539.8 477.5,543.6 484.7,546.2C492.9,548.4 502.3,550.7 510.4,551.4C516.7,551.2 523.0,550.8 528.4,548.8C533.2,545.6 537.0,540.5 541.2,536.0C545.5,531.1 550.0,526.4 554.0,520.5C558.7,511.8 562.7,501.0 566.9,490.7C571.3,479.1 575.7,466.7 579.7,454.8C583.3,443.6 586.5,432.4 590.0,421.4C593.4,411.0 596.8,399.7 600.3,390.6C602.8,384.8 605.4,379.9 608.0,375.2C610.1,371.9 612.2,367.6 614.4,366.2C616.8,367.5 619.5,371.8 622.0,375.2C625.1,380.4 628.0,387.4 631.0,393.0C633.6,397.6 635.8,402.3 638.8,406.0C641.9,408.7 645.5,410.6 649.0,412.4C652.4,413.5 656.1,413.7 659.3,415.0C662.1,417.5 664.5,420.4 667.0,424.0C670.5,430.4 673.9,439.3 677.3,447.0C680.7,454.7 684.1,462.3 687.5,470.2C691.0,478.6 694.3,487.7 697.8,496.0C701.1,503.6 704.3,510.8 708.0,518.0C712.0,525.0 716.4,531.9 721.0,538.5C725.8,544.7 730.8,551.0 736.3,556.5C742.0,561.3 748.2,565.5 754.3,569.3C760.2,572.3 765.9,574.8 772.3,577.0C780.3,579.2 789.3,580.3 798.0,582.2C807.1,584.4 815.9,587.1 825.7,589.3C837.8,591.7 851.3,593.8 864.2,595.7C877.0,597.3 889.3,598.8 902.7,599.6C919.0,599.8 936.9,598.7 954.0,598.3C971.1,597.9 990.2,597.7 1005.4,597.0C1014.9,596.3 1023.3,596.1 1031.0,594.4C1036.7,592.4 1041.4,589.6 1046.5,586.7C1051.7,583.2 1056.9,579.5 1061.9,575.2C1067.2,569.8 1072.4,562.9 1077.3,557.2C1081.3,552.7 1084.1,547.4 1088.8,544.4C1095.7,542.6 1105.9,545.0 1113.2,544.4C1116.1,542.9 1118.5,541.2 1120.9,539.2C1123.2,535.4 1125.3,531.0 1127.3,526.4C1129.6,520.4 1131.6,513.5 1133.8,507.1L1136.3,505.8C1138.4,510.5 1140.7,517.2 1142.7,520.0C1144.1,518.2 1145.3,514.0 1146.6,511.0L1151.7,508.4C1153.4,511.0 1155.2,513.3 1156.9,516.1C1159.1,522.3 1161.1,530.1 1163.3,536.6C1165.4,542.0 1167.5,547.0 1169.7,552.0C1171.8,552.3 1174.0,552.4 1176.1,552.6C1178.2,551.2 1180.4,549.8 1182.5,548.2C1186.0,542.3 1189.5,535.9 1192.8,529.0C1196.4,520.2 1199.9,509.8 1203.1,500.7C1205.8,492.8 1208.3,484.4 1210.8,477.6C1212.6,473.3 1214.1,470.4 1216.0,466.0C1219.1,458.3 1222.7,448.3 1226.3,439.2C1230.4,429.1 1235.2,419.1 1239.1,408.4C1243.0,396.1 1246.1,382.1 1249.4,369.9C1252.1,360.0 1254.8,351.1 1257.1,341.6C1259.1,332.2 1260.2,322.0 1262.2,313.3C1264.1,306.8 1265.7,301.0 1268.6,295.3C1272.5,289.8 1278.0,285.4 1282.8,279.9C1288.6,272.8 1294.7,263.6 1300.7,256.8C1305.8,251.9 1310.8,247.5 1316.1,243.9C1321.1,241.2 1326.5,240.3 1331.5,237.5C1336.8,233.6 1342.2,228.1 1346.9,223.4C1350.7,219.1 1354.0,215.5 1357.2,210.5C1361.1,202.4 1364.1,191.9 1367.5,182.3C1371.0,172.2 1374.1,160.7 1377.7,151.5C1380.6,145.3 1383.6,139.7 1386.7,134.8C1389.2,132.8 1391.9,130.7 1394.4,129.7C1397.4,132.4 1400.4,137.0 1403.4,141.2C1406.9,146.7 1410.4,153.5 1413.7,159.2C1416.4,163.7 1418.3,167.7 1421.4,172.0C1425.8,177.1 1432.4,182.3 1436.8,187.4C1439.9,191.7 1441.9,196.1 1444.5,200.3C1446.2,201.6 1447.9,202.8 1449.6,204.1C1453.0,212.1 1456.4,220.6 1459.9,228.5C1463.3,235.6 1467.1,241.7 1470.2,249.0C1473.2,257.8 1474.6,269.3 1477.9,277.3C1480.9,282.3 1484.7,285.8 1488.1,290.1C1491.5,294.4 1494.7,299.7 1498.4,303.0C1501.7,304.1 1505.6,304.8 1508.7,304.3C1511.7,301.0 1514.0,295.3 1516.4,290.1C1519.2,283.1 1521.7,274.7 1524.1,267.0C1526.4,259.3 1528.1,250.8 1530.5,243.9C1532.5,239.1 1534.2,235.1 1536.9,231.0C1540.5,226.9 1546.2,224.0 1549.8,219.5C1552.8,213.9 1554.0,206.1 1556.2,200.3C1557.9,196.5 1559.6,191.4 1561.3,190.0C1563.1,191.8 1564.8,197.7 1566.5,202.8C1569.5,213.3 1572.7,228.3 1575.4,241.3C1577.9,254.8 1580.0,269.3 1581.9,282.4C1583.3,293.1 1584.4,309.6 1585.7,313.2C1587.0,309.6 1588.3,293.9 1589.6,282.4C1591.4,263.5 1592.6,236.4 1594.7,218.2C1596.2,208.4 1598.3,200.3 1599.8,192.6C1600.8,187.4 1601.5,183.1 1602.4,178.4"/></g>
</svg></body></html>
